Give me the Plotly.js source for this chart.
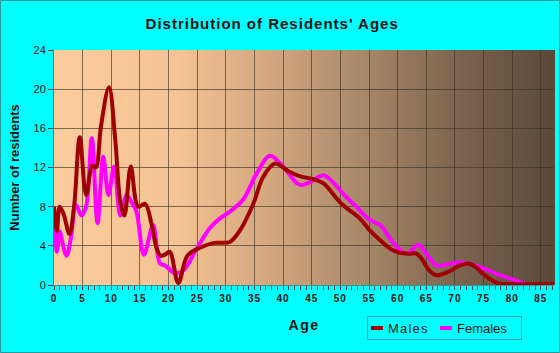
<!DOCTYPE html>
<html>
<head>
<meta charset="utf-8">
<script src="https://cdn.plot.ly/plotly-3.0.1.min.js"></script>
<style>
html,body{margin:0;padding:0;background:#00FFFF;}
#chart{width:560px;height:353px;}
#chart .gtitle{letter-spacing:1px;}
#chart .xtick text{letter-spacing:1px;}
#chart .xtitle{letter-spacing:1.5px;}
#chart .legendtext{letter-spacing:1.2px;}
#chart .legendlines path{stroke-dasharray:0 18 12 100 !important;}
</style>
</head>
<body>
<div id="chart"></div>
<script>
// ---- data ----
var maleAges = [0,0.5,1,1.7,2.7,3.5,4.5,5.6,6.7,7.3,8.2,9.6,10.7,11.6,12.3,13.4,14.7,15.9,17,17.9,18.6,19.4,20.2,21.7,23.3,25.5,28,30.7,32.5,34.8,36.5,38.6,41,43,45.3,47,50.2,53.4,55.1,56.9,59,60.4,62,63.3,64.3,65.5,66.8,69,70.9,72.4,73.7,75,77.5,80,87.3];
var maleCounts = [8.0,5.5,8.0,7.2,5.2,8.0,15.1,9.2,12.2,12.0,16.2,20.2,14.8,8.4,7.1,12.1,8.0,8.3,6.3,3.8,3.0,3.1,3.4,0.2,3.0,3.8,4.3,4.4,5.6,8.3,11.0,12.4,11.6,11.1,10.8,10.4,8.3,6.8,5.6,4.6,3.6,3.3,3.2,3.2,2.6,1.5,1.0,1.4,2.0,2.2,1.8,1.1,0.2,0.1,0.1];
var femaleAges = [0,0.5,1,1.4,2.2,3,3.8,4.8,5.6,6.6,7.6,8.6,9.5,10.5,11.6,12.7,13.6,14.4,15.7,17.3,18.5,19.4,21.1,22.6,24.9,27.2,29,30.7,33,35.4,37.7,40,42.4,43.3,45,47,48.7,50.5,52.8,55,57,58.6,60,61.6,63.6,65,66.8,68.5,70.9,72.2,74,76.7,77.8,79.5,81.9,82.5];
var femaleCounts = [7.8,3.4,5.5,4.5,3.0,5.0,8.2,7.1,8.0,15.0,6.3,13.1,9.2,12.1,7.1,9.2,8.4,7.5,3.1,6.1,2.2,2.0,1.2,1.5,3.7,5.8,6.8,7.5,8.7,11.4,13.2,12.1,10.4,10.2,10.6,11.2,10.5,9.3,8.0,6.7,6.1,4.8,3.8,3.2,4.1,3.2,2.0,2.1,2.3,2.2,1.9,1.3,1.0,0.7,0.2,0.1];
var xTickVals = [0,5,10,15,20,25,30,35,40,45,50,55,60,65,70,75,80,85];
var yTickVals = [0,4,8,12,16,20,24];

// ---- gradient background strips (style only) ----
var stops = [[0,[252,204,156]],[0.25,[244,194,147]],[0.45,[208,164,125]],[0.6,[172,139,107]],[0.8,[126,102,80]],[1,[90,72,56]]];
function colAt(t){
  for(var i=0;i<stops.length-1;i++){
    var a=stops[i],b=stops[i+1];
    if(t>=a[0]&&t<=b[0]){
      var f=(t-a[0])/(b[0]-a[0]);
      var c=a[1].map(function(v,k){return Math.round(v+(b[1][k]-v)*f);});
      return 'rgb('+c.join(',')+')';
    }
  }
  return 'rgb('+stops[stops.length-1][1].join(',')+')';
}
var shapes=[];
var N=120;
for(var i=0;i<N;i++){
  shapes.push({type:'rect',xref:'x domain',yref:'y domain',x0:i/N,x1:(i+1)/N+0.002,y0:0,y1:1,
    fillcolor:colAt((i+0.5)/N),line:{width:0},layer:'below'});
}
var W=560,H=353,mL=54,mR=6,mT=50,mB=68;
var pw=W-mL-mR, ph=H-mT-mB;
function px2x(p){return (p-mL)/pw;}
function py2y(p){return (H-mB-p)/ph;}
// figure frame
shapes.push({type:'rect',xref:'paper',yref:'paper',
  x0:px2x(0.5),x1:px2x(W-0.5),y0:py2y(H-0.5),y1:py2y(0.5),
  line:{color:'#2A9A9A',width:1},fillcolor:'rgba(0,0,0,0)',layer:'above'});
// legend frame
shapes.push({type:'rect',xref:'paper',yref:'paper',
  x0:px2x(367.5),x1:px2x(521.5),y0:py2y(339.5),y1:py2y(316.5),
  line:{color:'#2A9A9A',width:1},fillcolor:'rgba(0,0,0,0)',layer:'above'});

var font='"Liberation Sans", Arial, sans-serif';

var traces=[
  {x:femaleAges,y:femaleCounts,name:'Females',type:'scatter',mode:'lines',legend:'legend2',
   line:{color:'#FF00FF',width:4,shape:'spline',smoothing:1},hoverinfo:'skip'},
  {x:maleAges,y:maleCounts,name:'Males',type:'scatter',mode:'lines',legend:'legend',
   line:{color:'#A00000',width:4,shape:'spline',smoothing:1},hoverinfo:'skip'}
];

var legBase={orientation:'h',xanchor:'left',yanchor:'top',y:py2y(313),
  bgcolor:'rgba(0,0,0,0)',borderwidth:0,
  font:{family:font,size:13,color:'#111'},itemwidth:30,tracegroupgap:0};

var layout={
  width:W,height:H,
  margin:{l:mL,r:mR,t:mT,b:mB,pad:0},
  paper_bgcolor:'#00FFFF',
  plot_bgcolor:'rgba(0,0,0,0)',
  font:{family:font,color:'#111'},
  title:{text:"Distribution of Residents' Ages",font:{family:font,size:15,weight:'bold',color:'#111'},
    x:0.486,xanchor:'center',y:0.932,yanchor:'middle'},
  xaxis:{range:[0,87.3],tickvals:xTickVals,ticktext:xTickVals.map(String),
    showgrid:true,gridcolor:'rgba(60,50,40,0.65)',gridwidth:1,
    showline:true,linecolor:'#2A9A9A',linewidth:1,
    ticks:'outside',ticklen:4,tickcolor:'#444',
    minor:{dtick:1,ticks:'outside',ticklen:4,tickcolor:'#444',showgrid:false},
    tickfont:{family:font,size:10,color:'#111',weight:'bold'},
    zeroline:false,fixedrange:true,
    title:{text:'Age',font:{family:font,size:14,weight:'bold',color:'#111'},standoff:17}},
  yaxis:{range:[0,24],tickvals:yTickVals,
    showgrid:true,gridcolor:'rgba(60,50,40,0.65)',gridwidth:1,
    showline:true,linecolor:'#2A8A8A',linewidth:1,
    ticks:'outside',ticklen:5,tickcolor:'#444',
    tickfont:{family:font,size:11,color:'#111'},
    zeroline:false,fixedrange:true,
    title:{text:'Number of residents',font:{family:font,size:13,weight:'bold',color:'#111'},standoff:10}},
  showlegend:true,
  legend:Object.assign({},legBase,{x:px2x(348)}),
  legend2:Object.assign({},legBase,{x:px2x(417)}),
  shapes:shapes
};
Plotly.newPlot('chart',traces,layout,{displayModeBar:false,staticPlot:true});
</script>
</body>
</html>
